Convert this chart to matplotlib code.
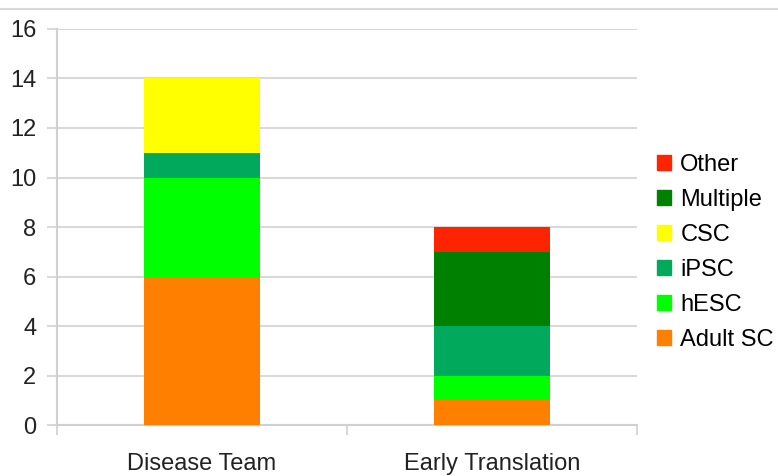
import matplotlib
matplotlib.use("Agg")
import matplotlib.pyplot as plt
from matplotlib.lines import Line2D
from matplotlib.patches import Patch
import numpy as np

categories = ["Disease Team", "Early Translation"]
series_names = ["Adult SC", "hESC", "iPSC", "CSC", "Multiple", "Other"]
adult_sc = [6, 1]
hesc = [4, 1]
ipsc = [1, 2]
csc = [3, 0]
multiple = [0, 3]
other = [0, 1]
series_values = [adult_sc, hesc, ipsc, csc, multiple, other]
colors = ["#FF7F00", "#00FF00", "#00A95C", "#FFFF00", "#008000", "#FF2400"]
yticks = [0, 2, 4, 6, 8, 10, 12, 14, 16]

plt.rcParams['font.family'] = ['Liberation Sans', 'DejaVu Sans']

fig = plt.figure(figsize=(7.78, 4.76), dpi=100)
ax = fig.add_axes([0.0733, 0.1071, 0.7455, 0.832])

x = np.arange(len(categories))
bottom = np.zeros(len(categories))
handles = []
for name, vals, c in zip(series_names, series_values, colors):
    vals = np.array(vals, dtype=float)
    ax.bar(x, vals, width=0.40, bottom=bottom, color=c, linewidth=0, zorder=3)
    bottom += vals
    handles.append(Patch(facecolor=c, edgecolor=c, label=name))

ax.set_xlim(-0.5, 1.5)
ax.set_ylim(0, 16)
ax.set_yticks(yticks)
ax.set_yticklabels([str(t) for t in yticks], fontsize=17, color="#222222")
ax.yaxis.grid(True, color="#D9D9D9", linewidth=1.5, zorder=0)
ax.set_axisbelow(True)

ax.set_xticks([-0.5, 0.5, 1.5])
ax.set_xticklabels([])
ax.set_xticks(x, minor=True)
ax.set_xticklabels(categories, minor=True, fontsize=17, color="#222222")
ax.tick_params(axis='x', which='minor', length=0, pad=20)
ax.tick_params(axis='x', which='major', length=7, width=1.2, color="#D0D0D0")
ax.tick_params(axis='y', length=7, width=1.5, color="#D9D9D9", pad=8)

for s in ["top", "right"]:
    ax.spines[s].set_visible(False)
ax.spines["left"].set_color("#D0D0D0")
ax.spines["left"].set_linewidth(1.5)
ax.spines["bottom"].set_color("#D0D0D0")
ax.spines["bottom"].set_linewidth(1.5)

leg = fig.legend(handles=handles[::-1], loc="center left", bbox_to_anchor=(0.835, 0.47),
                 frameon=False, fontsize=17, handlelength=0.6, handleheight=0.6,
                 handletextpad=0.4, labelspacing=0.55, borderaxespad=0, borderpad=0.3)

fig.add_artist(Line2D([0, 1], [1 - 8.5/476, 1 - 8.5/476], transform=fig.transFigure,
                      color="#D9D9D9", linewidth=1.5))

fig.savefig("out.png", dpi=100)
